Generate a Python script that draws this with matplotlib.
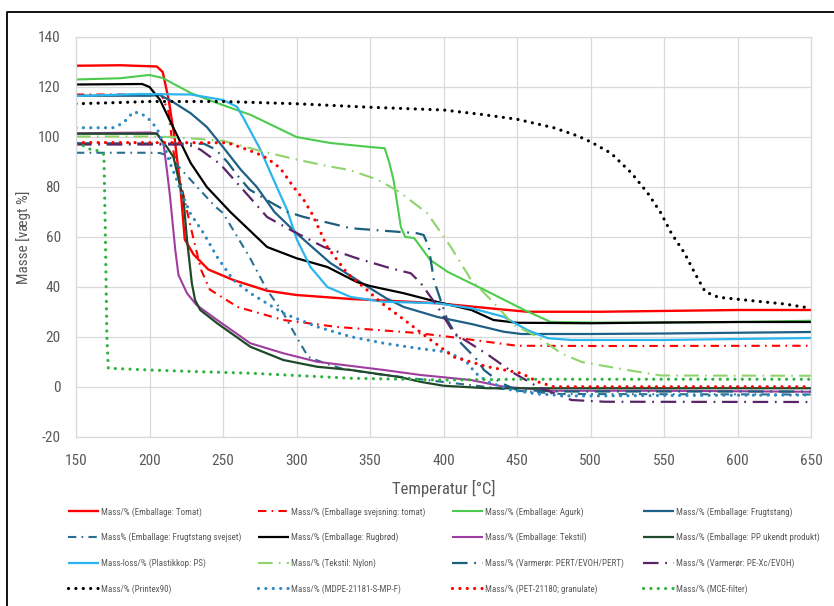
import matplotlib
matplotlib.use('Agg')
import matplotlib.pyplot as plt
from matplotlib.lines import Line2D
from matplotlib import font_manager

_names = {f.name for f in font_manager.fontManager.ttflist}
_pref = [f for f in ['Liberation Sans Narrow', 'Roboto Condensed', 'Liberation Sans'] if f in _names]
plt.rcParams['font.family'] = _pref[:1] + ['DejaVu Sans']
plt.rcParams['axes.unicode_minus'] = False

# ---------------- data ----------------
T_tomat = [150, 180, 200, 205, 209, 213, 217, 221, 224, 230, 240, 257, 280, 300, 337, 380, 396, 440, 457, 507, 560, 600, 650]
M_tomat = [128.5, 128.7, 128.3, 128.2, 126, 115, 100, 80, 59, 53, 47, 42.8, 38.5, 36.8, 35.2, 34, 33.5, 31, 30.1, 30.1, 30.5, 30.8, 30.8]

T_svejs_tomat = [150, 200, 208, 213, 216, 223, 228, 235, 241, 260, 291, 328, 382, 405, 450, 507, 650]
M_svejs_tomat = [117, 117, 117, 110, 95, 77, 64, 47, 39, 32, 26.8, 24, 21.6, 20, 16.5, 16.4, 16.5]

T_agurk = [150, 180, 195, 200, 209, 228, 246, 269, 300, 323, 350, 360, 363, 366, 371, 374, 380, 386, 391, 403, 428, 455, 473, 500, 550, 600, 650]
M_agurk = [123, 123.5, 124.5, 124.8, 123.6, 117.6, 113.6, 108.8, 100, 97.6, 96, 95.5, 90, 82.8, 64, 60, 59.6, 54.8, 50.8, 46, 38.8, 30.8, 26, 25.8, 25.8, 26, 26.5]

T_frugt = [150, 200, 207, 216, 228, 239, 250, 262, 273, 285, 300, 323, 346, 361, 373, 396, 419, 441, 453, 500, 550, 600, 650]
M_frugt = [116.5, 116.5, 116.8, 114, 109.5, 104, 96, 87, 80, 70, 61.5, 49.6, 41, 35.5, 32, 28, 25.2, 22.1, 21.2, 21.2, 21.4, 21.7, 22]

T_frugt_svejs = [150, 200, 207, 213, 220, 234, 245, 250, 268, 280, 291, 300, 308, 319, 330, 350, 400, 430, 450, 480, 650]
M_frugt_svejs = [93.7, 93.7, 93.6, 92.5, 88, 79, 72, 69.6, 52, 38.8, 29.6, 20, 12, 9.6, 7.5, 5.5, 2, 0, -1.5, -2.8, -3]

T_rugbrod = [150, 195, 200, 207, 216, 228, 239, 255, 280, 300, 321, 341, 350, 373, 396, 419, 434, 450, 500, 550, 600, 650]
M_rugbrod = [121, 121.2, 120, 115, 104, 89.6, 80, 70, 56, 51.5, 48, 42, 40.4, 37.5, 34, 30.8, 26.8, 25.7, 25.5, 25.8, 26, 26]

T_tekstil = [150, 200, 205, 209.5, 212, 214, 217.5, 219.7, 225.5, 232, 246, 268.6, 291, 314, 359.5, 384.5, 400, 418.6, 441, 475, 550, 650]
M_tekstil = [101.5, 101.8, 101.5, 97.5, 86, 76, 55, 44.8, 37.5, 32.8, 26.8, 17.5, 13.5, 10.1, 6.8, 4.8, 3.9, 2.8, 0.1, -1.5, -1.5, -1.9]

T_pp = [150, 205, 211.8, 216.3, 221, 223, 225.5, 228.8, 231, 234.5, 246, 268.6, 291, 314, 337, 370, 385, 400, 430, 650]
M_pp = [101.3, 101.3, 96, 92, 80, 76, 59, 41.5, 34.8, 30.8, 25.5, 16.1, 10.8, 8.1, 6.8, 4, 2, 0.5, -0.5, -0.5]

T_ps = [150, 193.6, 228, 250, 259.5, 264, 275.4, 284.5, 293.6, 300.4, 309.5, 321, 337, 359, 396, 419, 441, 457, 471, 487, 550, 650]
M_ps = [116.4, 117.2, 117, 114.8, 112.1, 107.5, 95, 82.8, 70.8, 58.8, 48, 40, 36, 34.1, 33.5, 31.5, 28.1, 22.8, 19.5, 18.8, 18.8, 19.6]

T_nylon = [150, 200, 215, 250, 275, 300, 320, 336, 355, 370, 389, 405, 418.6, 432, 448, 464, 480, 494, 525, 548, 650]
M_nylon = [100.2, 100.2, 100, 98.5, 94.5, 91, 88.5, 86.8, 83, 78, 69.5, 56, 43, 35, 24.8, 20.1, 13.5, 10, 6.8, 4.6, 4.5]

T_pert = [150, 237, 245, 253, 260, 268, 280, 294, 305, 323, 337, 382, 386.5, 390, 393.4, 402.6, 411.8, 423, 427.5, 439, 450, 480, 650]
M_pert = [97.5, 97.3, 95, 90, 84.5, 79, 74.7, 70, 68, 65.5, 63.5, 61.5, 60.8, 56, 42.8, 26.8, 17.6, 10.8, 6.8, 1.6, -1.2, -1.8, -1.8]

T_pexc = [150, 222, 228, 234.5, 248, 262, 280, 296, 318.6, 341, 364, 377.7, 384.5, 396, 407, 430, 448, 464, 487, 510, 650]
M_pexc = [97, 97, 96.5, 95, 89.2, 80, 68, 62.8, 56, 51.5, 47.5, 45.5, 41.6, 32.1, 21.6, 13, 5.5, 0.1, -5.2, -5.9, -6]

T_printex = [150, 180, 200, 250, 300, 350, 400, 425, 450, 475, 491, 500, 514, 528, 539, 548, 555, 564, 571, 578, 587, 610, 632, 650]
M_printex = [113.3, 113.8, 114.2, 114.2, 113.3, 111.9, 110.8, 109.1, 107.1, 103.7, 100.5, 98.1, 93.5, 85.5, 77.5, 69.5, 61.5, 53.5, 45.5, 38.1, 35.9, 34.5, 33.2, 31.5]

T_mdpe = [150, 175, 182, 189, 194, 199, 205, 209.5, 214, 218.6, 221, 227.7, 236.8, 246, 257, 268.6, 291, 314, 337, 359.5, 382, 402.7, 415, 422, 430, 446, 464, 487, 550, 650]
M_mdpe = [103.7, 103.7, 105.5, 110, 109.5, 107.5, 103.5, 97.5, 89.5, 82.8, 78.8, 69.5, 61.5, 52, 42.8, 37.5, 29.5, 24.1, 20.1, 17.5, 15.5, 14, 10.5, 5.5, 2.1, -1.2, -2.8, -3.6, -3.4, -3.2]

T_pet = [150, 253, 262, 273, 280, 289, 298, 305, 311, 321, 334.5, 348, 357, 373, 385, 396, 407, 430, 453, 464, 475, 650]
M_pet = [97.8, 97.7, 95.9, 93.5, 91.5, 87.5, 80, 74.8, 68.8, 56, 45.5, 38.8, 34, 27, 21.6, 16.8, 12, 8.1, 5.5, 2.1, 0.1, 0.1]

T_mce = [150, 155, 160, 165, 169, 170, 171, 172, 180, 200, 235, 269, 337, 400, 450, 650]
M_mce = [97, 96.5, 95, 94.5, 93, 60, 20, 7.5, 7.3, 6.8, 6.1, 5.5, 3.5, 2.8, 3.1, 3.1]

labels = [
    "Mass/% (Emballage: Tomat)",
    "Mass/% (Emballage svejsning: tomat)",
    "Mass/% (Emballage: Agurk)",
    "Mass/% (Emballage: Frugtstang)",
    "Mass% (Emballage: Frugtstang svejset)",
    "Mass/% (Emballage: Rugbrød)",
    "Mass/% (Emballage: Tekstil)",
    "Mass/% (Emballage: PP ukendt produkt)",
    "Mass-loss/% (Plastikkop: PS)",
    "Mass/% (Tekstil: Nylon)",
    "Mass/% (Varmerør: PERT/EVOH/PERT)",
    "Mass/% (Varmerør: PE-Xc/EVOH)",
    "Mass/% (Printex90)",
    "Mass/% (MDPE-21181-S-MP-F)",
    "Mass/% (PET-21180; granulate)",
    "Mass/% (MCE-filter)",
]
temps = [T_tomat, T_svejs_tomat, T_agurk, T_frugt, T_frugt_svejs, T_rugbrod, T_tekstil, T_pp,
         T_ps, T_nylon, T_pert, T_pexc, T_printex, T_mdpe, T_pet, T_mce]
masses = [M_tomat, M_svejs_tomat, M_agurk, M_frugt, M_frugt_svejs, M_rugbrod, M_tekstil, M_pp,
          M_ps, M_nylon, M_pert, M_pexc, M_printex, M_mdpe, M_pet, M_mce]

xticks = [150, 200, 250, 300, 350, 400, 450, 500, 550, 600, 650]
yticks = [-20, 0, 20, 40, 60, 80, 100, 120, 140]

# ---------------- styles ----------------
colors = ['#FF0000', '#FF0000', '#4DCB4D', '#1F6087',
          '#2A6E92', '#000000', '#A03CA0', '#1E4A2A',
          '#2BB5EE', '#8ED46A', '#1B5F7D', '#5A2566',
          '#000000', '#2E89C4', '#FF0000', '#2EB33E']
DOT = (0, (0.01, 2.3))
DD1 = (0, (4, 2.5, 0.8, 2.5))
DD2 = (0, (7, 3, 0.8, 3))
styles = ['-', DD1, '-', '-',
          DD1, '-', '-', '-',
          '-', DD2, DD2, DD2,
          DOT, DOT, DOT, DOT]
widths = [1.7, 1.5, 1.5, 1.6,
          1.5, 1.6, 1.5, 1.6,
          1.6, 1.5, 1.6, 1.6,
          2.3, 2.3, 2.3, 2.3]

fig = plt.figure(figsize=(8.34, 6.06), dpi=100)
ax = fig.add_axes([76 / 834, 1 - 437 / 606, (811 - 76) / 834, 400 / 606])

for T, M, lab, c, ls, lw in zip(temps, masses, labels, colors, styles, widths):
    is_dot = ls == DOT
    ax.plot(T, M, color=c, lw=lw, linestyle=ls, label=lab,
            dash_capstyle='round' if is_dot else 'butt',
            solid_joinstyle='round', solid_capstyle='butt')

ax.set_xlim(150, 650)
ax.set_ylim(-20, 140)
ax.set_xticks(xticks)
ax.set_yticks(yticks)
ax.grid(True, color='#D9D9D9', lw=0.9)
ax.set_axisbelow(True)
for s in ax.spines.values():
    s.set_color('#D9D9D9')
    s.set_linewidth(0.9)
ax.tick_params(length=0, labelsize=11, labelcolor='#595959')
ax.tick_params(axis='x', pad=12)
ax.tick_params(axis='y', pad=11)
ax.set_xlabel('Temperatur [°C]', fontsize=12, color='#595959', labelpad=9)
ax.set_ylabel('Masse [vægt %]', fontsize=11, color='#595959', labelpad=5)

# ---------------- legend: 4 columns ----------------
lines = ax.get_lines()
col_x = [68, 258, 452, 643]
for k in range(4):
    idx = [k, k + 4, k + 8, k + 12]
    fig.legend([lines[i] for i in idx], [labels[i] for i in idx],
               loc='upper left', bbox_to_anchor=(col_x[k] / 834, 1 - 507 / 606),
               frameon=False, fontsize=6.5, handlelength=3.4, handletextpad=0.3,
               labelspacing=1.78, borderpad=0, borderaxespad=0, labelcolor='#595959')

# figure border (left and top visible)
fig.add_artist(Line2D([7 / 834, 7 / 834, 1.0], [0, 1 - 12 / 606, 1 - 12 / 606],
                      transform=fig.transFigure, color='black', lw=1.3))

fig.savefig('out.png', dpi=100)
